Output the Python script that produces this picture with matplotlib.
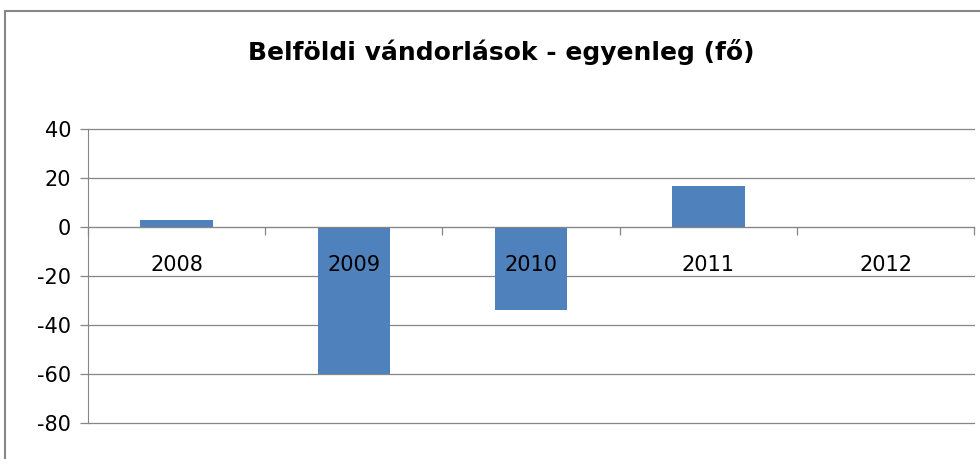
import numpy as np
import matplotlib.pyplot as plt
from matplotlib.patches import Rectangle

years = ["2008", "2009", "2010", "2011", "2012"]
balance = [3, -60, -34, 17, 0]
y_ticks = [-80, -60, -40, -20, 0, 20, 40]

title = "Belföldi vándorlások - egyenleg (fő)"
bar_color = "#4F81BD"
grey = "#868686"

plt.rcParams["axes.unicode_minus"] = False

fig = plt.figure(figsize=(9.8, 4.59), dpi=100)
ax = fig.add_axes([0.0898, 0.0791, 0.994 - 0.0898, 0.7179 - 0.0791])

x = np.arange(len(years))
ax.bar(x, balance, width=0.41, color=bar_color, zorder=3)

ax.set_xlim(-0.5, len(years) - 0.5)
ax.set_ylim(-80, 40)
ax.set_yticks(y_ticks)
ax.yaxis.grid(True, color=grey, linewidth=0.9, zorder=0)
for gl in ax.get_ygridlines():
    gl.set_clip_on(False)
ax.tick_params(axis="y", length=6, width=0.9, color=grey, pad=6, labelsize=15)

# category axis sits on the zero line, labels drawn just below it
ax.spines["bottom"].set_position(("data", 0))
ax.spines["bottom"].set_color(grey)
ax.spines["bottom"].set_zorder(4)
ax.set_xticks([])
ax.set_xticks(np.arange(-0.5, len(years)), minor=True)
ax.tick_params(axis="x", which="minor", length=6, width=0.9, color=grey)
for xi, yr in zip(x, years):
    ax.text(xi, -15.5, yr, ha="center", va="center", fontsize=15, zorder=5)

ax.spines["left"].set_color(grey)
ax.spines["top"].set_visible(False)
ax.spines["right"].set_visible(False)

fig.text(0.511, 0.887, title, ha="center", va="center",
         fontsize=18, fontweight="bold")

# chart frame
fig.patches.append(Rectangle((5 / 980, -0.2), 1.2, 1 - 11 / 459 + 0.2,
                             transform=fig.transFigure, fill=False,
                             edgecolor=grey, linewidth=1.5))

fig.savefig("out.png", dpi=100)
